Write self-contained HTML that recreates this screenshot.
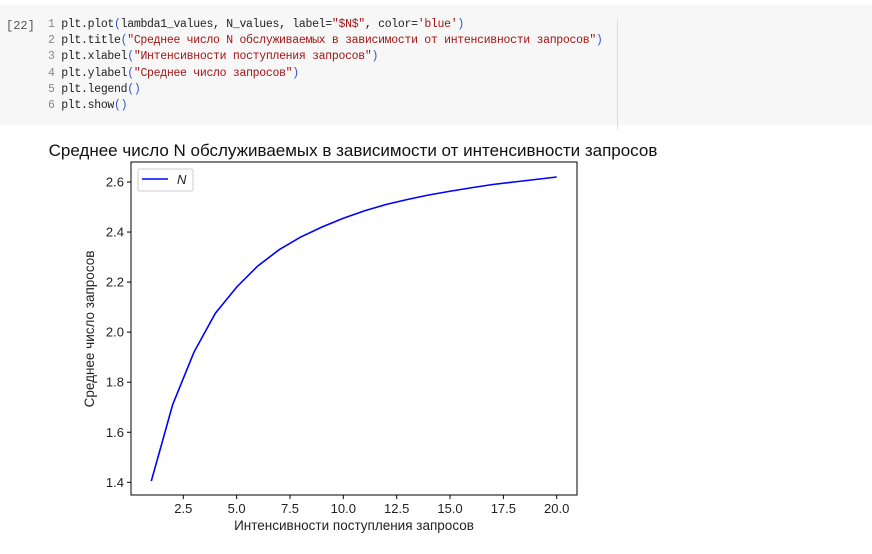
<!DOCTYPE html>
<html><head><meta charset="utf-8">
<style>
body{margin:0;width:872px;height:554px;background:#fff;overflow:hidden;font-family:"Liberation Sans","DejaVu Sans",sans-serif;position:relative}
#cell{position:absolute;left:0;top:5px;width:872px;height:120px;background:#f7f7f7}
#num{position:absolute;left:6px;top:14px;font:12px "Liberation Mono",monospace;color:#555}
#code{position:absolute;left:48px;top:12px;font:11.5px/16.2px "Liberation Mono","DejaVu Sans Mono",monospace;letter-spacing:-0.3px;color:#222;white-space:pre}
.ln{color:#888}.s{color:#a31515}.p{color:#3355cc}
#sep{position:absolute;left:617px;top:14px;width:1px;height:110px;background:#ddd}
</style></head><body>
<div id="cell">
<div id="num">[22]</div>
<div id="code"><span class="ln">1</span> plt.plot<span class="p">(</span>lambda1_values, N_values, label=<span class="s">"$N$"</span>, color=<span class="s">'blue'</span><span class="p">)</span>
<span class="ln">2</span> plt.title<span class="p">(</span><span class="s">"Среднее число N обслуживаемых в зависимости от интенсивности запросов"</span><span class="p">)</span>
<span class="ln">3</span> plt.xlabel<span class="p">(</span><span class="s">"Интенсивности поступления запросов"</span><span class="p">)</span>
<span class="ln">4</span> plt.ylabel<span class="p">(</span><span class="s">"Среднее число запросов"</span><span class="p">)</span>
<span class="ln">5</span> plt.legend<span class="p">()</span>
<span class="ln">6</span> plt.show<span class="p">()</span></div>
<div id="sep"></div>
</div>
<svg id="chart" width="872" height="554" style="position:absolute;left:0;top:0" font-family="Liberation Sans, DejaVu Sans, sans-serif"></svg>
<script>
const xs=[1,2,3,4,5,6,7,8,9,10,11,12,13,14,15,16,17,18,19,20];
const ys=[1.405,1.71,1.92,2.075,2.18,2.265,2.33,2.38,2.42,2.455,2.485,2.51,2.53,2.548,2.563,2.577,2.59,2.60,2.61,2.62];
const xTicks=[2.5,5.0,7.5,10.0,12.5,15.0,17.5,20.0];
const yTicks=[1.4,1.6,1.8,2.0,2.2,2.4,2.6];
const L=131,R=577,T=162,B=495;
function sx(v){return 183.3+(v-2.5)*(556.7-183.3)/17.5;}
function sy(v){return 482.3-(v-1.4)*(482.3-182)/1.2;}
const svg=document.getElementById('chart');const NS='http://www.w3.org/2000/svg';
function mk(t,a,txt){const e=document.createElementNS(NS,t);for(const k in a)e.setAttribute(k,a[k]);if(txt!=null)e.textContent=txt;svg.appendChild(e);return e;}
let e=mk('text',{x:353,y:156,'text-anchor':'middle','font-size':17,fill:'#111'},'Среднее число N обслуживаемых в зависимости от интенсивности запросов');


e=mk('rect',{x:L,y:T,width:R-L,height:B-T,fill:'none',stroke:'#000','stroke-width':1});


xTicks.forEach(v=>{const x=sx(v);mk('line',{x1:x,x2:x,y1:B,y2:B+4,stroke:'#000'});
 const t=mk('text',{x:x,y:B+18,'text-anchor':'middle','font-size':13,fill:'#222'},v.toFixed(1));
 
 });
yTicks.forEach(v=>{const y=sy(v);mk('line',{x1:L-4,x2:L,y1:y,y2:y,stroke:'#000'});
 const t=mk('text',{x:L-7,y:y+4.5,'text-anchor':'end','font-size':13,fill:'#222'},v.toFixed(1));
 
 });
e=mk('text',{x:354,y:530,'text-anchor':'middle','font-size':13.5,fill:'#222'},'Интенсивности поступления запросов');


e=mk('text',{x:0,y:0,'text-anchor':'middle','font-size':13.5,fill:'#222',transform:'translate(94,329) rotate(-90)'},'Среднее число запросов');


e=mk('polyline',{points:xs.map((x,i)=>sx(x)+','+sy(ys[i])).join(' '),fill:'none',stroke:'#0000ff','stroke-width':1.6});


e=mk('rect',{x:138,y:169,width:55,height:22,rx:2,fill:'#fff',stroke:'#ccc'});


mk('line',{x1:142,x2:168,y1:179,y2:179,stroke:'#0000ff','stroke-width':1.6});
e=mk('text',{x:177,y:184,'font-size':13,'font-style':'italic',fill:'#222'},'N');


</script>
</body></html>
